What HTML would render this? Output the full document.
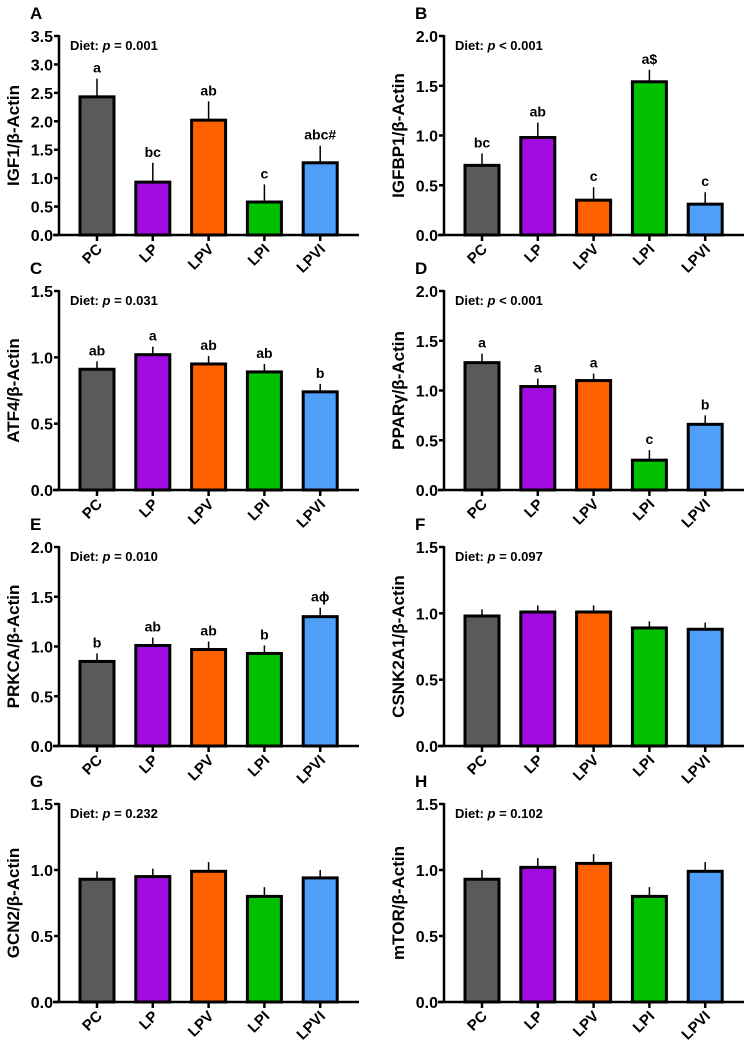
<!DOCTYPE html>
<html><head><meta charset="utf-8"><style>
html,body{margin:0;padding:0;background:#fff;}
svg{display:block;font-family:"Liberation Sans",Arial,sans-serif;font-weight:bold;}
</style></head><body>
<svg id="fig" width="753" height="1053" viewBox="0 0 753 1053" xmlns="http://www.w3.org/2000/svg"></svg>
<script>
const categories = ["PC","LP","LPV","LPI","LPVI"];
const colors = ["#5a5a5a","#a00ce0","#ff6000","#00c000","#4f9ef8"];
const panelLetters = ["A","B","C","D","E","F","G","H"];
const yTitles = ["IGF1/β-Actin","IGFBP1/β-Actin","ATF4/β-Actin","PPARγ/β-Actin","PRKCA/β-Actin","CSNK2A1/β-Actin","GCN2/β-Actin","mTOR/β-Actin"];
const pTexts = ["= 0.001","< 0.001","= 0.031","< 0.001","= 0.010","= 0.097","= 0.232","= 0.102"];
const yMaxes = [3.5,2.0,1.5,2.0,2.0,1.5,1.5,1.5];
const valsA = [2.43,0.93,2.02,0.58,1.27];
const valsB = [0.70,0.98,0.35,1.54,0.31];
const valsC = [0.91,1.02,0.95,0.89,0.74];
const valsD = [1.28,1.04,1.10,0.30,0.66];
const valsE = [0.85,1.01,0.97,0.93,1.30];
const valsF = [0.98,1.01,1.01,0.89,0.88];
const valsG = [0.93,0.95,0.99,0.80,0.94];
const valsH = [0.93,1.02,1.05,0.80,0.99];
const errA = [0.32,0.34,0.33,0.31,0.30];
const errB = [0.12,0.15,0.13,0.12,0.12];
const errC = [0.06,0.06,0.06,0.06,0.06];
const errD = [0.09,0.08,0.07,0.10,0.09];
const errE = [0.08,0.08,0.08,0.08,0.09];
const errF = [0.05,0.05,0.05,0.05,0.05];
const errG = [0.06,0.06,0.07,0.07,0.06];
const errH = [0.07,0.07,0.07,0.07,0.07];
const sigA = ["a","bc","ab","c","abc#"];
const sigB = ["bc","ab","c","a$","c"];
const sigC = ["ab","a","ab","ab","b"];
const sigD = ["a","a","a","c","b"];
const sigE = ["b","ab","ab","b","aϕ"];
const sigNone = ["","","","","",""];
const allVals = [valsA,valsB,valsC,valsD,valsE,valsF,valsG,valsH];
const allErr = [errA,errB,errC,errD,errE,errF,errG,errH];
const allSig = [sigA,sigB,sigC,sigD,sigE,sigNone,sigNone,sigNone];

const svg = document.getElementById('fig');
const NS = "http://www.w3.org/2000/svg";
function mk(tag, attrs, parent){ const e=document.createElementNS(NS,tag); for(const k in attrs) e.setAttribute(k,attrs[k]); (parent||svg).appendChild(e); return e; }

const rowTops = [36,291,547,804], rowBots = [235,490,746,1002];
for(let p=0;p<8;p++){
  const col=p%2, row=Math.floor(p/2);
  const ax = col===0?59:444;
  const top=rowTops[row], bot=rowBots[row], ymax=yMaxes[p];
  const yS = v => bot - v/ymax*(bot-top);
  const xS = i => ax+38+i*55.8;
  const g = mk('g',{});
  
  
  const lt = mk('text',{x:ax-29,y:top-17,'font-size':17,fill:'#000'},g); lt.textContent=panelLetters[p];
   
  for(let v=0; v<=ymax+1e-9; v+=0.5){
    const y=yS(v);
    mk('line',{x1:ax-5,x2:ax,y1:y,y2:y,stroke:'#000','stroke-width':2.5},g);
    const t=mk('text',{x:ax-6,y:y+6,'font-size':16,'text-anchor':'end',fill:'#000'},g);
    t.textContent=v.toFixed(1);
     
  }
  const yt=mk('text',{x:0,y:0,'font-size':17,'text-anchor':'middle',fill:'#000',transform:`translate(${ax-40},${(top+bot)/2}) rotate(-90)`},g);
  yt.textContent=yTitles[p];
   
  const dt=mk('text',{x:ax+11,y:top+14,'font-size':13,fill:'#000'},g);
  dt.innerHTML='Diet: <tspan font-style="italic">p</tspan> '+pTexts[p];
   
  for(let i=0;i<5;i++){
    const v=allVals[p][i], e=allErr[p][i], cx=xS(i);
    mk('line',{x1:cx,x2:cx,y1:yS(v),y2:yS(v+e),stroke:'#000','stroke-width':1.5},g);
    const r=mk('rect',{x:cx-17,y:yS(v),width:34,height:bot-yS(v),fill:colors[i],stroke:'#000','stroke-width':3},g);
    
    
    if(allSig[p][i]){
      const s=mk('text',{x:cx,y:yS(v+e)-6,'font-size':14,'text-anchor':'middle',fill:'#000'},g);
      s.textContent=allSig[p][i];
       
    }
    mk('line',{x1:cx,x2:cx,y1:bot,y2:bot+6,stroke:'#000','stroke-width':2.5},g);
    const xt=mk('text',{x:0,y:0,'font-size':15,'text-anchor':'end',fill:'#000',transform:`translate(${cx+6},${bot+15}) rotate(-45)`},g);
    xt.textContent=categories[i];
     
  }
  mk('line',{x1:ax,x2:ax,y1:top-1,y2:bot,stroke:'#000','stroke-width':2.5},g);
  mk('line',{x1:ax-6,x2:ax+300,y1:bot,y2:bot,stroke:'#000','stroke-width':2.5},g);
}
</script>
</body></html>
